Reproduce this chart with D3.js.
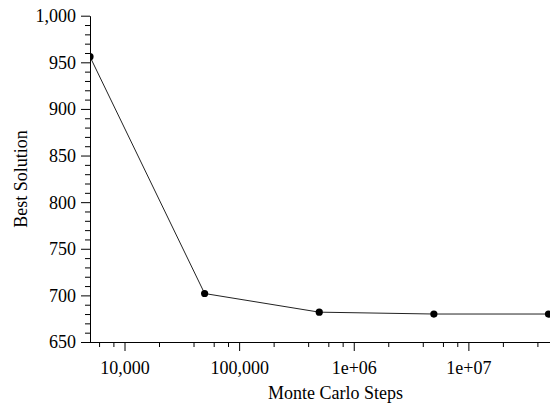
<!DOCTYPE html>
<html>
<head>
<meta charset="utf-8">
<script src="https://cdn.jsdelivr.net/npm/d3@7"></script>
<style>
  html, body { margin: 0; padding: 0; background: #fff; }
  svg { display: block; }
</style>
</head>
<body>
<svg id="chart" width="550" height="405" font-family="Liberation Serif"></svg>
<script>
const steps = [5000, 50000, 500000, 5000000, 50000000];
const bestSolution = [956, 702, 682, 680, 680];
const xMajorTicks = [10000, 100000, 1000000, 10000000];
const xMajorLabels = ["10,000", "100,000", "1e+06", "1e+07"];
const xMinorTicks = [6000, 8000, 20000, 40000, 60000, 80000, 200000, 400000, 600000, 800000,
                     2000000, 4000000, 6000000, 8000000, 20000000, 40000000];
const yMajorTicks = [650, 700, 750, 800, 850, 900, 950, 1000];
const yMinorTicks = d3.range(650, 1001, 10).filter(v => v % 50 !== 0);

const FONT = "Liberation Serif";
const svg = d3.select("#chart");
const pLeft = 90, pRight = 548.5, pTop = 15.7, pBottom = 342;

const x = d3.scaleLog().domain([5000, 50000000]).range([pLeft, pRight]);
const y = d3.scaleLinear().domain([650, 1000]).range([pBottom, pTop]);

// clip
svg.append("defs").append("clipPath").attr("id", "clip")
  .append("rect").attr("x", pLeft).attr("y", 0).attr("width", 550 - pLeft).attr("height", pBottom);

const data = steps.map((s, i) => ({ s, v: bestSolution[i] }));
const plot = svg.append("g").attr("clip-path", "url(#clip)");
plot.append("path")
  .datum(data)
  .attr("fill", "none")
  .attr("stroke", "#222")
  .attr("stroke-width", 1)
  .attr("d", d3.line().x(d => x(d.s)).y(d => y(d.v)));
plot.selectAll("circle").data(data).enter().append("circle")
  .attr("cx", d => x(d.s)).attr("cy", d => y(d.v)).attr("r", 3.6).attr("fill", "#000");

// x axis
const xMinor = svg.append("g").attr("transform", `translate(0,${pBottom})`)
  .call(d3.axisBottom(x).tickValues(xMinorTicks).tickSize(5).tickFormat(""));
xMinor.select(".domain").remove();
const xAxis = svg.append("g").attr("transform", `translate(0,${pBottom})`)
  .call(d3.axisBottom(x).tickValues(xMajorTicks).tickSize(9).tickSizeOuter(0)
    .tickFormat((d, i) => xMajorLabels[i]));
xAxis.attr("font-family", FONT).attr("font-size", 18);
xAxis.select(".domain").attr("d", `M${pLeft},0.5H550`);
xAxis.selectAll("text").attr("font-size", 18).attr("font-family", FONT)
  .attr("fill", "#000").attr("y", 0).attr("dy", null).attr("transform", "translate(0,32)");

// y axis
const yMinor = svg.append("g").attr("transform", `translate(${pLeft},0)`)
  .call(d3.axisLeft(y).tickValues(yMinorTicks).tickSize(5).tickFormat(""));
yMinor.select(".domain").remove();
const yAxis = svg.append("g").attr("transform", `translate(${pLeft},0)`)
  .call(d3.axisLeft(y).tickValues(yMajorTicks).tickSize(9).tickSizeOuter(0)
    .tickFormat(d3.format(",")));
yAxis.attr("font-family", FONT).attr("font-size", 18);
yAxis.selectAll("text").attr("font-size", 18).attr("font-family", FONT)
  .attr("fill", "#000").attr("x", -14).attr("dy", "0.33em");

svg.selectAll(".tick line, .domain").attr("stroke", "#000");

// titles
svg.append("text")
  .attr("x", 335.5).attr("y", 399)
  .attr("text-anchor", "middle").attr("font-size", 18).attr("font-family", FONT).attr("fill", "#000")
  .text("Monte Carlo Steps");
svg.append("text")
  .attr("transform", `translate(27,179) rotate(-90)`)
  .attr("text-anchor", "middle").attr("font-size", 18).attr("font-family", FONT).attr("fill", "#000")
  .text("Best Solution");
</script>
</body>
</html>
